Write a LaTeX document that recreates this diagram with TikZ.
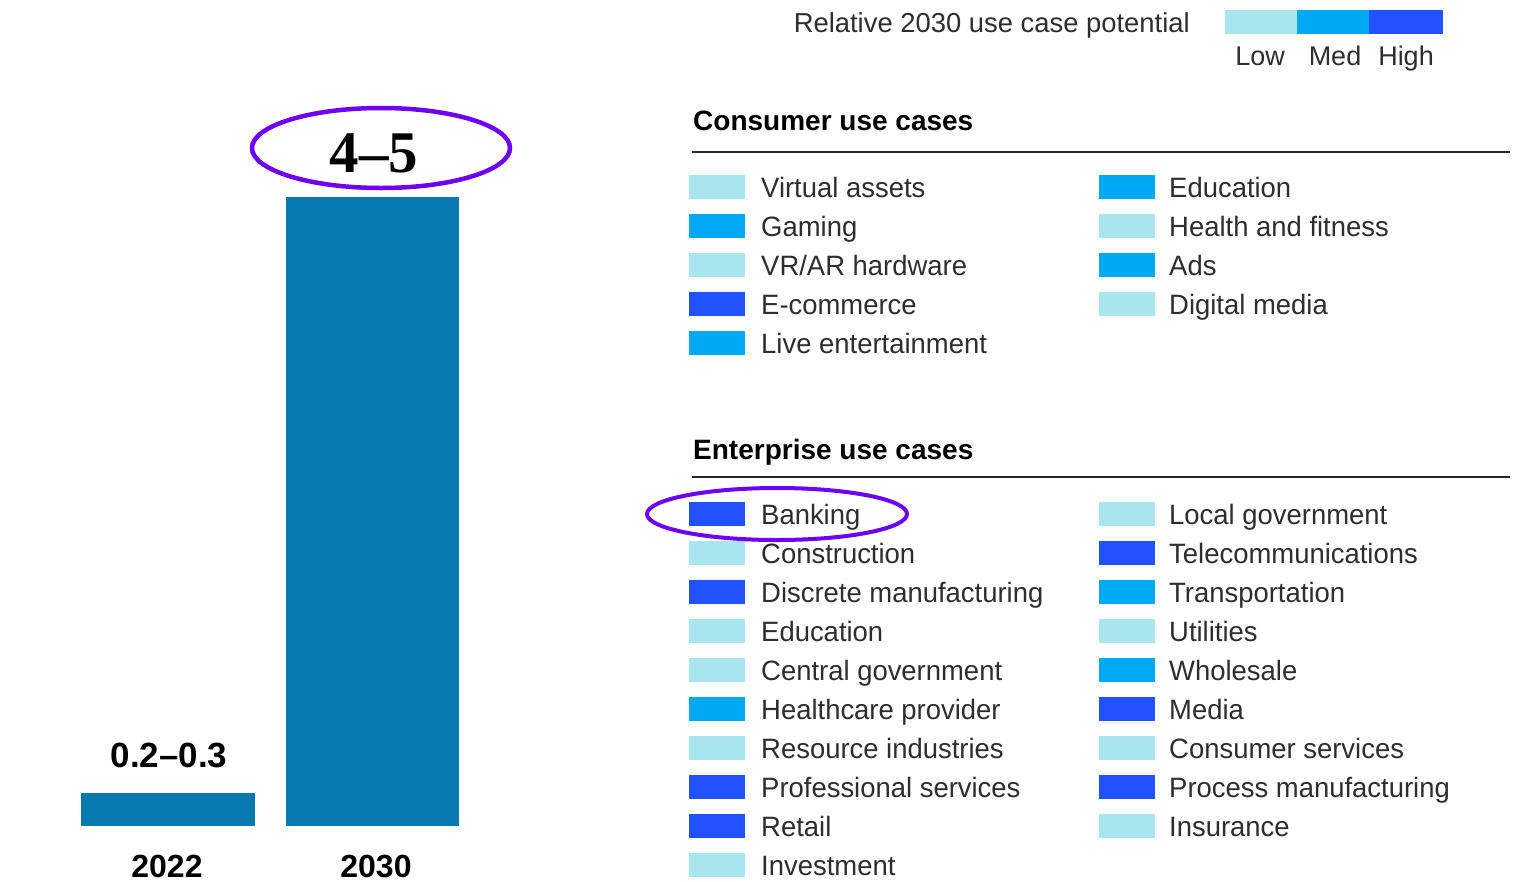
\documentclass[tikz,border=0pt]{standalone}
\usepackage{fontspec}
\setmainfont{Liberation Sans}
\newfontfamily\labfont[FakeStretch=0.98]{Liberation Sans}
\newfontfamily\numserif{Liberation Serif}
\usetikzlibrary{shapes.geometric}
\definecolor{lowc}{HTML}{A8E5EF}
\definecolor{medc}{HTML}{00A9F4}
\definecolor{highc}{HTML}{2251FF}
\definecolor{barc}{HTML}{0679B0}
\definecolor{purp}{HTML}{6E00F5}
\definecolor{txt}{HTML}{2E2E2E}
\begin{document}
\begin{tikzpicture}[x=1pt,y=-1pt,
  swatch/.style={draw=none,minimum width=56pt,minimum height=24pt,inner sep=0pt,outer sep=0pt,anchor=west},
  lab/.style={anchor=base west,inner sep=0pt,text=txt,font=\labfont\fontsize{28}{30}\selectfont},
  head/.style={anchor=base west,inner sep=0pt,text=black,font=\bfseries\fontsize{28}{30}\selectfont},
  rulel/.style={draw=black!85,line width=1.8pt},
  bar/.style={fill=barc,draw=none,inner sep=0pt,outer sep=0pt,anchor=south west},
  yr/.style={anchor=base,inner sep=0pt,text=black,font=\bfseries\fontsize{32}{34}\selectfont},
  ring/.style={ellipse,draw=purp,line width=4.5pt,inner sep=0pt},
  keylab/.style={anchor=base,inner sep=0pt,text=txt,font=\fontsize{27}{29}\selectfont}
]
\useasboundingbox (0,0) rectangle (1522,881);
\fill[white] (0,0) rectangle (1522,881);

% bars
\node[bar,minimum width=174pt,minimum height=33pt] (b2022) at (81,826) {};
\node[bar,minimum width=173pt,minimum height=629pt] (b2030) at (286,826) {};
\node[yr,font=\bfseries\fontsize{35}{37}\selectfont] (v2022) at (169,767) {0.2–0.3};
\node[anchor=base,inner sep=0pt,text=black,font=\numserif\bfseries\fontsize{59}{61}\selectfont] (v2030) at (374,172) {4–5};
\node[ring,minimum width=258pt,minimum height=80pt] (ring1) at (381,148) {};
\node[yr] (y2022) at (167,877) {2022};
\node[yr] (y2030) at (376,877) {2030};

% key
\node[anchor=base east,inner sep=0pt,text=txt,font=\fontsize{27.4}{29}\selectfont] (keyt) at (1190,32) {Relative 2030 use case potential};
\node[draw=none,fill=lowc,minimum width=72pt,minimum height=24pt,inner sep=0pt,anchor=north west] (klow) at (1225,10) {};
\node[draw=none,fill=medc,minimum width=72pt,minimum height=24pt,inner sep=0pt,anchor=north west] (kmed) at (1297,10) {};
\node[draw=none,fill=highc,minimum width=74pt,minimum height=24pt,inner sep=0pt,anchor=north west] (khigh) at (1369,10) {};
\node[keylab] (klowt) at (1260,65) {Low};
\node[keylab] (kmedt) at (1335,65) {Med};
\node[keylab] (khight) at (1406,65) {High};

% consumer
\node[head] (hcons) at (693,130) {Consumer use cases};
\draw[rulel] (692,152) -- (1510,152);
\foreach \t/\c [count=\i] in {Virtual assets/lowc,Gaming/medc,{VR/AR hardware}/lowc,E-commerce/highc,Live entertainment/medc}{
  \pgfmathsetmacro\yy{187+39*(\i-1)}
  \node[swatch,fill=\c] (cls\i) at (689,\yy) {};
  \node[lab] (clt\i) at (761,\yy+10) {\t};
}
\foreach \t/\c [count=\i] in {Education/medc,Health and fitness/lowc,Ads/medc,Digital media/lowc}{
  \pgfmathsetmacro\yy{187+39*(\i-1)}
  \node[swatch,fill=\c] (crs\i) at (1099,\yy) {};
  \node[lab] (crt\i) at (1169,\yy+10) {\t};
}

% enterprise
\node[head] (hent) at (693,459) {Enterprise use cases};
\draw[rulel] (692,477) -- (1510,477);
\foreach \t/\c [count=\i] in {Banking/highc,Construction/lowc,Discrete manufacturing/highc,Education/lowc,Central government/lowc,Healthcare provider/medc,Resource industries/lowc,Professional services/highc,Retail/highc,Investment/lowc}{
  \pgfmathsetmacro\yy{514+39*(\i-1)}
  \node[swatch,fill=\c] (els\i) at (689,\yy) {};
  \node[lab] (elt\i) at (761,\yy+10) {\t};
}
\foreach \t/\c [count=\i] in {Local government/lowc,Telecommunications/highc,Transportation/medc,Utilities/lowc,Wholesale/medc,Media/highc,Consumer services/lowc,Process manufacturing/highc,Insurance/lowc}{
  \pgfmathsetmacro\yy{514+39*(\i-1)}
  \node[swatch,fill=\c] (ers\i) at (1099,\yy) {};
  \node[lab] (ert\i) at (1169,\yy+10) {\t};
}
\node[ring,minimum width=260pt,minimum height=52pt,line width=4pt] (ring2) at (777,514) {};
\end{tikzpicture}
\end{document}
